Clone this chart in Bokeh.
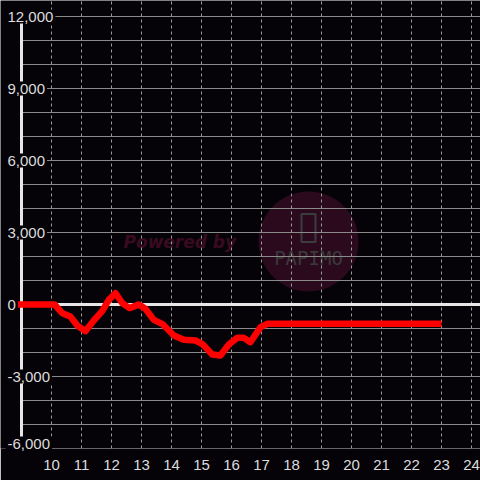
from bokeh.plotting import figure
from bokeh.models import FixedTicker, Range1d
from bokeh.core.properties import value
from bokeh.embed import file_html
from bokeh.resources import INLINE

# ---- data ----
hours = [8.88, 10.1, 10.36, 10.63, 10.86, 11.13, 11.41, 11.69, 11.91, 12.13, 12.36,
         12.6, 12.91, 13.13, 13.41, 13.69, 14.08, 14.41, 14.8, 15.02, 15.36, 15.63,
         15.91, 16.19, 16.41, 16.63, 16.97, 17.19, 23.0]
values = [0, 0, -360, -500, -875, -1110, -667, -278, 194, 472, 56,
          -150, 0, -180, -640, -805, -1290, -1470, -1500, -1640, -2083, -2125,
          -1667, -1390, -1390, -1570, -944, -805, -805]
x_ticks = list(range(10, 25))
y_ticks = [12000, 9000, 6000, 3000, 0, -3000, -6000]
y_tick_labels = ["12,000", "9,000", "6,000", "3,000", "0", "-3,000", "-6,000"]
y_grid = list(range(-6000, 12001, 1000))

BG = "#050308"
FONT = "Liberation Sans"

# page-pixel helpers (reference layout: 30px per hour, 72px per 3000)
def px_x(P):
    return 10 + (P - 51) / 30.0

def px_y(Q):
    return (304 - Q) * 3000 / 72.0

X0, X1 = px_x(0), px_x(480)
Y0, Y1 = px_y(448), px_y(0)
AXIS_X = 9

p = figure(width=480, height=480, output_backend="svg", toolbar_location=None,
           x_range=Range1d(X0, X1), y_range=Range1d(Y0, Y1),
           y_axis_location=None, min_border_left=0, min_border_right=0,
           min_border_top=0, min_border_bottom=32,
           background_fill_color=BG, border_fill_color=BG, outline_line_color=None)

# x axis
p.xaxis.ticker = FixedTicker(ticks=x_ticks)
p.xaxis.axis_line_color = None
p.xaxis.major_tick_line_color = None
p.xaxis.minor_tick_line_color = None
p.xaxis.major_label_text_color = "#dcdcdc"
p.xaxis.major_label_text_font = FONT
p.xaxis.major_label_text_font_size = "15px"
p.xaxis.major_label_standoff = 5

# grids
p.ygrid.visible = False
p.xgrid.ticker = FixedTicker(ticks=x_ticks)
p.xgrid.grid_line_color = "#9a9a9a"
p.xgrid.grid_line_dash = "3 3"
p.xgrid.grid_line_width = 1

# watermark
p.scatter([px_x(308)], [px_y(241)], size=100, marker="circle",
          fill_color="#2b0a1d", line_color=None, level="image")
p.text([px_x(123)], [px_y(241)], text=["Powered by"], text_font=value("DejaVu Sans"),
       text_font_style="bold italic", text_font_size="17px", text_color="#3a0b20",
       text_align="left", text_baseline="middle", level="image")
p.rect([px_x(308)], [px_y(227.5)], width=14, height=28, width_units="screen",
       height_units="screen", fill_color=None, line_color="#3c3c3c", line_width=2,
       level="image")
p.text([px_x(308)], [px_y(257.5)], text=["PAPIMO"], text_font=value("DejaVu Sans Mono"),
       text_font_size="19px", text_color="#3a3a3a", text_align="center",
       text_baseline="middle", level="image")

# horizontal grid lines
p.segment(x0=[AXIS_X] * len(y_grid), y0=y_grid, x1=[X1] * len(y_grid), y1=y_grid,
          line_color="#8a8a8a", line_width=1)
# zero line and y axis line
p.segment(x0=[AXIS_X], y0=[0], x1=[X1], y1=[0], line_color="#e6e6e6", line_width=3)
p.segment(x0=[AXIS_X], y0=[Y0], x1=[AXIS_X], y1=[12000], line_color="#e6e6e6", line_width=3)

# y tick labels with background boxes
p.text(x=[px_x(5)] * len(y_ticks), y=y_ticks, text=y_tick_labels,
       y_offset=[0, 0, 0, 0, 0, 0, -5],
       text_align="left", text_baseline="middle", text_font=value(FONT),
       text_font_size="15px", text_color="#dcdcdc",
       background_fill_color=BG, padding=2, level="annotation")

# data line
p.line(hours, values, line_color="#ff0000", line_width=6.5, line_join="round",
       level="overlay")

open("out.html", "w").write(file_html(p, INLINE))
